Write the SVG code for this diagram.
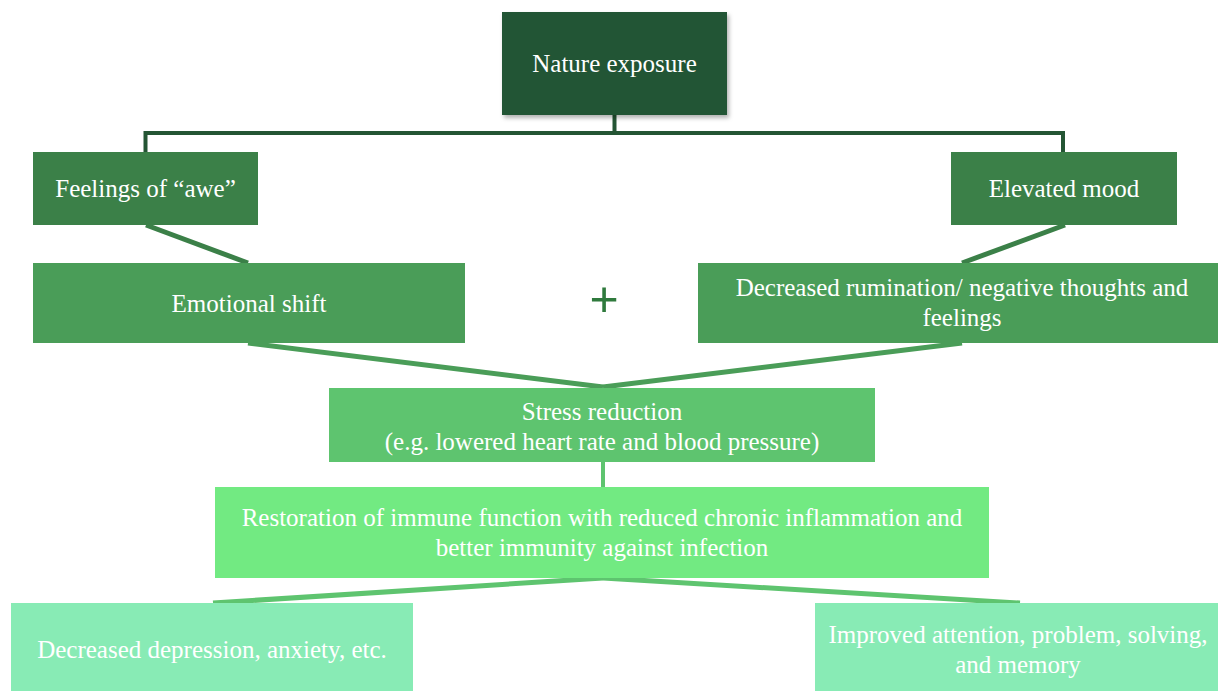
<svg xmlns="http://www.w3.org/2000/svg" width="1218" height="691" viewBox="0 0 1218 691">
<defs>
<style>
.t{font-family:"Liberation Serif","Times New Roman",serif;font-size:25px;fill:#ffffff;text-anchor:middle}
.c{fill:none;stroke-linecap:butt;stroke-linejoin:miter}
</style>
<filter id="sh" x="-5%" y="-5%" width="115%" height="120%">
<feDropShadow dx="2" dy="3" stdDeviation="2" flood-color="#000" flood-opacity="0.3"/>
</filter>
</defs>
<rect width="1218" height="691" fill="#ffffff"/>
<g id="connectors">
<polyline class="c" points="145.5,152 145.5,133 1063,133 1063,152" stroke="#245534" stroke-width="4"/>
<line class="c" x1="614.5" y1="115" x2="614.5" y2="133" stroke="#245534" stroke-width="4"/>
<line class="c" x1="146" y1="225" x2="248" y2="263" stroke="#3b8048" stroke-width="5"/>
<line class="c" x1="1065" y1="225" x2="962" y2="263" stroke="#3b8048" stroke-width="5"/>
<line class="c" x1="248" y1="343" x2="603" y2="387" stroke="#4a9d58" stroke-width="5"/>
<line class="c" x1="962" y1="343" x2="603" y2="387" stroke="#4a9d58" stroke-width="5"/>
<line class="c" x1="603" y1="462" x2="603" y2="487" stroke="#5ec46f" stroke-width="4"/>
<line class="c" x1="603" y1="578" x2="213" y2="603" stroke="#5ec46f" stroke-width="5"/>
<line class="c" x1="603" y1="578" x2="1020" y2="603" stroke="#5ec46f" stroke-width="5"/>
</g>
<g id="nature">
<rect x="502" y="12" width="225" height="103" fill="#245534" filter="url(#sh)"/>
<text class="t" x="614.5" y="72">Nature exposure</text>
</g>
<g id="awe">
<rect x="33" y="152" width="225" height="73" fill="#3b8048"/>
<text class="t" x="145.5" y="197">Feelings of “awe”</text>
</g>
<g id="mood">
<rect x="951" y="152" width="226" height="73" fill="#3b8048"/>
<text class="t" x="1064" y="197">Elevated mood</text>
</g>
<g id="emotional">
<rect x="33" y="263" width="432" height="80" fill="#4a9d58"/>
<text class="t" x="249" y="312">Emotional shift</text>
</g>
<g id="plus">
<text x="604" y="316" style="font-family:'Liberation Sans',Arial,sans-serif;font-size:50px;fill:#2f7a3d;text-anchor:middle">+</text>
</g>
<g id="rumination">
<rect x="698" y="263" width="520" height="80" fill="#4a9d58"/>
<text class="t" x="962" y="296">Decreased rumination/ negative thoughts and</text>
<text class="t" x="962" y="326">feelings</text>
</g>
<g id="stress">
<rect x="329" y="388" width="546" height="74" fill="#5ec46f"/>
<text class="t" x="602" y="420">Stress reduction</text>
<text class="t" x="602" y="450">(e.g. lowered heart rate and blood pressure)</text>
</g>
<g id="immune">
<rect x="215" y="487" width="774" height="91" fill="#72ea82"/>
<text class="t" x="602" y="526">Restoration of immune function with reduced chronic inflammation and</text>
<text class="t" x="602" y="556">better immunity against infection</text>
</g>
<g id="depression">
<rect x="11" y="603" width="402" height="88" fill="#88ebb5"/>
<text class="t" x="212" y="658">Decreased depression, anxiety, etc.</text>
</g>
<g id="attention">
<rect x="815" y="603" width="403" height="88" fill="#88ebb5"/>
<text class="t" x="1018" y="643">Improved attention, problem, solving,</text>
<text class="t" x="1018" y="673">and memory</text>
</g>
</svg>
